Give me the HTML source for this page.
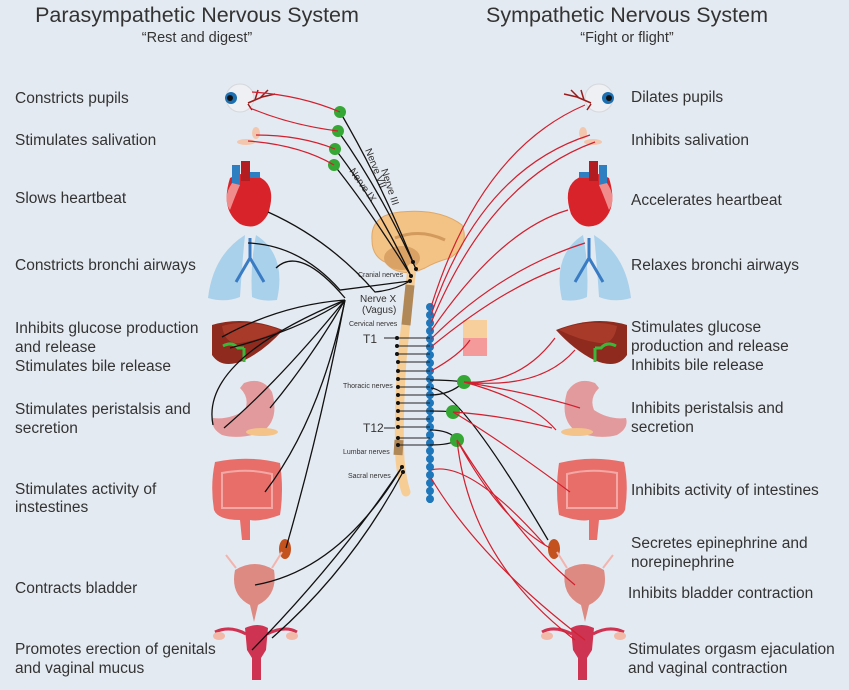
<!DOCTYPE html>
<html><head><meta charset="utf-8"><style>
html,body{margin:0;padding:0;background:#e4eaf1;}
svg{display:block;font-family:"Liberation Sans",sans-serif;}
</style></head><body>
<svg width="849" height="690" viewBox="0 0 849 690" xmlns="http://www.w3.org/2000/svg">
<rect width="849" height="690" fill="#e4eaf1"/>
<g fill="#333" text-anchor="middle">
<text x="197" y="22" font-size="21.5">Parasympathetic Nervous System</text>
<text x="197" y="42" font-size="14.5">“Rest and digest”</text>
<text x="627" y="22" font-size="21.5">Sympathetic Nervous System</text>
<text x="627" y="42" font-size="14.5">“Fight or flight”</text>
</g>
<g fill="#333" font-size="15.5">
<text x="15" y="103">Constricts pupils</text>
<text x="15" y="145">Stimulates salivation</text>
<text x="15" y="203">Slows heartbeat</text>
<text x="15" y="270">Constricts bronchi airways</text>
<text x="15" y="333">Inhibits glucose production</text>
<text x="15" y="352">and release</text>
<text x="15" y="371">Stimulates bile release</text>
<text x="15" y="414">Stimulates peristalsis and</text>
<text x="15" y="433">secretion</text>
<text x="15" y="494">Stimulates activity of</text>
<text x="15" y="512">instestines</text>
<text x="15" y="593">Contracts bladder</text>
<text x="15" y="654">Promotes erection of genitals</text>
<text x="15" y="673">and vaginal mucus</text>
<text x="631" y="102">Dilates pupils</text>
<text x="631" y="145">Inhibits salivation</text>
<text x="631" y="205">Accelerates heartbeat</text>
<text x="631" y="270">Relaxes bronchi airways</text>
<text x="631" y="332">Stimulates glucose</text>
<text x="631" y="351">production and release</text>
<text x="631" y="370">Inhibits bile release</text>
<text x="631" y="413">Inhibits peristalsis and</text>
<text x="631" y="432">secretion</text>
<text x="631" y="495">Inhibits activity of intestines</text>
<text x="631" y="548">Secretes epinephrine and</text>
<text x="631" y="567">norepinephrine</text>
<text x="628" y="598">Inhibits bladder contraction</text>
<text x="628" y="654">Stimulates orgasm ejaculation</text>
<text x="628" y="673">and vaginal contraction</text>
</g>

<g id="L">
<circle cx="240" cy="98" r="14" fill="#eef0f3" stroke="#d5d8dc"/>
<circle cx="231" cy="98" r="6" fill="#1c6fb0"/><circle cx="230" cy="98" r="3" fill="#111"/>
<path d="M248 103 L262 97 L275 94 M255 100 L258 90 M260 98 L268 90 M248 104 L252 110" stroke="#9b1b1b" stroke-width="1.5" fill="none"/>
<ellipse cx="256" cy="133" rx="4" ry="6" fill="#f3c7ad"/><ellipse cx="246" cy="142" rx="9" ry="3" fill="#f3c7ad"/>
<path d="M230 178 Q220 210 240 224 Q258 232 268 214 Q276 190 264 180 Q248 168 230 178Z" fill="#d9232a"/>
<rect x="232" y="165" width="8" height="20" fill="#2d7fc1"/><rect x="241" y="161" width="9" height="20" fill="#b31d22"/><rect x="250" y="172" width="10" height="6" fill="#2d7fc1"/>
<path d="M232 183 Q222 198 230 210 Q236 194 240 185Z" fill="#f08c8c"/>
<path d="M245 235 Q213 255 208 298 Q225 303 240 297 Q242 265 245 235Z" fill="#a9d1ec"/>
<path d="M256 235 Q287 255 277 300 Q262 302 252 297 Q250 265 256 235Z" fill="#a9d1ec"/>
<path d="M250 238 V258 M250 258 L236 282 M250 258 L264 282" stroke="#3a7cc4" stroke-width="3" fill="none"/>
<path d="M212 325 Q245 315 283 330 Q265 350 245 360 Q222 370 212 355Z" fill="#8e2a1e"/>
<path d="M222 326 Q250 318 280 330 Q260 340 240 343 Q225 345 222 326Z" fill="#a83a2a"/>
<path d="M223 346 Q232 341 238 348 L244 348 M244 348 V362" stroke="#3ab83a" stroke-width="3" fill="none"/>
<path d="M244 383 Q262 376 272 392 Q280 420 262 432 Q240 440 222 435 Q210 428 213 418 Q230 420 245 410 Q250 398 240 388Z" fill="#e39a9c"/>
<ellipse cx="262" cy="432" rx="16" ry="4" fill="#f3c38a"/>
<path d="M215 462 Q248 455 280 463 Q284 490 280 515 Q260 522 250 520 L250 540 L242 540 L240 520 Q218 520 214 510 Q210 485 215 462Z" fill="#e86e6a"/>
<path d="M222 473 Q248 468 272 474 L272 508 L222 508Z" fill="none" stroke="#f4a8a5" stroke-width="2"/>
<ellipse cx="285" cy="549" rx="6" ry="10" fill="#c4521e"/>
<path d="M235 570 Q230 595 250 605 L254 622 L258 605 Q278 595 274 570 Q255 558 235 570Z" fill="#dd8a83"/>
<path d="M236 568 L226 555 M272 568 L282 552" stroke="#f3b4ae" stroke-width="2"/>
<path d="M245 628 Q258 622 268 628 L266 650 L261 658 V680 H252 V658 L247 650Z" fill="#cf3352"/>
<path d="M246 634 Q230 625 215 632 M267 634 Q285 625 297 632" stroke="#cf3352" stroke-width="3" fill="none"/>
<ellipse cx="219" cy="636" rx="6" ry="4" fill="#f3b9a8"/><ellipse cx="292" cy="636" rx="6" ry="4" fill="#f3b9a8"/>
</g>
<g transform="translate(837,0) scale(-1,1)">
<use href="#L" x="-2" y="0"/>
</g>

<rect x="463" y="320" width="24" height="18" fill="#f6cf9c"/><rect x="463" y="338" width="24" height="18" fill="#f59a9a"/>

<path d="M372 240 Q370 215 400 212 Q440 208 462 225 Q470 245 450 258 Q435 262 425 268 L415 272 Q395 275 385 262 Q372 256 372 240Z" fill="#f3c285" stroke="#e0a868"/>
<ellipse cx="402" cy="258" rx="18" ry="12" fill="#dba265"/>
<path d="M395 238 Q420 228 445 240" stroke="#d29a5c" stroke-width="3" fill="none"/>

<path d="M412 268 Q407 310 402 360 Q398 420 400 460 Q402 480 406 492" stroke="#f7cd96" stroke-width="9" fill="none" stroke-linecap="round"/>
<path d="M410 285 L406 325 M399 440 L398 455" stroke="#b08756" stroke-width="9" fill="none"/>
<line x1="430" y1="305" x2="430" y2="503" stroke="#1c6fb0" stroke-width="3"/>
<g fill="#1f77bb">
<circle cx="430" cy="307" r="4"/><circle cx="430" cy="315" r="4"/><circle cx="430" cy="323" r="4"/><circle cx="430" cy="331" r="4"/><circle cx="430" cy="339" r="4"/><circle cx="430" cy="347" r="4"/><circle cx="430" cy="355" r="4"/><circle cx="430" cy="363" r="4"/><circle cx="430" cy="371" r="4"/><circle cx="430" cy="379" r="4"/><circle cx="430" cy="387" r="4"/><circle cx="430" cy="395" r="4"/><circle cx="430" cy="403" r="4"/><circle cx="430" cy="411" r="4"/><circle cx="430" cy="419" r="4"/><circle cx="430" cy="427" r="4"/><circle cx="430" cy="435" r="4"/><circle cx="430" cy="443" r="4"/><circle cx="430" cy="451" r="4"/><circle cx="430" cy="459" r="4"/><circle cx="430" cy="467" r="4"/><circle cx="430" cy="475" r="4"/><circle cx="430" cy="483" r="4"/><circle cx="430" cy="491" r="4"/><circle cx="430" cy="499" r="4"/>
</g>
<g stroke="#222" stroke-width="1">
<line x1="397" y1="338" x2="430" y2="338"/><line x1="397" y1="346" x2="430" y2="346"/><line x1="397" y1="354" x2="430" y2="354"/><line x1="398" y1="362" x2="430" y2="362"/><line x1="398" y1="371" x2="430" y2="371"/><line x1="398" y1="379" x2="430" y2="379"/><line x1="398" y1="387" x2="430" y2="387"/><line x1="398" y1="395" x2="430" y2="395"/><line x1="398" y1="403" x2="430" y2="403"/><line x1="398" y1="411" x2="430" y2="411"/><line x1="398" y1="419" x2="430" y2="419"/><line x1="398" y1="427" x2="430" y2="427"/><line x1="398" y1="438" x2="430" y2="438"/><line x1="398" y1="445" x2="430" y2="445"/>
<line x1="384" y1="338" x2="395" y2="338"/><line x1="384" y1="428" x2="395" y2="428"/>
</g>
<g fill="#111">
<circle cx="397" cy="338" r="2"/><circle cx="397" cy="346" r="2"/><circle cx="397" cy="354" r="2"/><circle cx="398" cy="362" r="2"/><circle cx="398" cy="371" r="2"/><circle cx="398" cy="379" r="2"/><circle cx="398" cy="387" r="2"/><circle cx="398" cy="395" r="2"/><circle cx="398" cy="403" r="2"/><circle cx="398" cy="411" r="2"/><circle cx="398" cy="419" r="2"/><circle cx="398" cy="427" r="2"/><circle cx="398" cy="438" r="2"/><circle cx="398" cy="445" r="2"/>
<circle cx="413" cy="262" r="2"/><circle cx="416" cy="269" r="2"/><circle cx="411" cy="276" r="2"/><circle cx="410" cy="281" r="2"/><circle cx="402" cy="467" r="2"/><circle cx="403" cy="472" r="2"/>
</g>
<g fill="#333">
<text x="363" y="343" font-size="12">T1</text>
<text x="363" y="432" font-size="12">T12</text>
<text x="360" y="302" font-size="10">Nerve X</text>
<text x="362" y="313" font-size="10">(Vagus)</text>
<text x="349" y="326" font-size="7">Cervical nerves</text>
<text x="343" y="388" font-size="7">Thoracic nerves</text>
<text x="343" y="454" font-size="7">Lumbar nerves</text>
<text x="348" y="478" font-size="7">Sacral nerves</text>
<text x="358" y="277" font-size="7">Cranial nerves</text>
<text font-size="10" transform="translate(349,171) rotate(55)">Nerve IX</text>
<text font-size="10" transform="translate(365,150) rotate(68)">Nerve VII</text>
<text font-size="10" transform="translate(381,170) rotate(72)">Nerve III</text>
</g>

<g stroke="#111" stroke-width="1.3" fill="none">
<path d="M340 112 Q380 180 413 262"/><path d="M338 131 Q380 190 416 269"/><path d="M335 149 Q375 200 411 276"/><path d="M334 165 Q370 210 411 276"/>
<path d="M268 212 Q330 240 375 292 Q395 290 410 281"/>
<path d="M248 243 Q300 245 340 290 Q380 285 410 281"/>
<path d="M276 268 Q300 245 345 298"/>
<path d="M222 337 Q280 305 345 300"/><path d="M230 348 Q300 330 345 300"/>
<path d="M213 425 Q200 360 345 300"/><path d="M224 428 Q280 380 345 300"/><path d="M270 408 Q310 360 345 300"/>
<path d="M265 492 Q320 420 345 300"/><path d="M286 548 Q320 430 345 300"/>
<path d="M255 585 Q340 570 402 467"/><path d="M252 650 Q340 560 402 467"/><path d="M272 638 Q350 570 403 472"/>
<path d="M431 388 Q460 390 548 540"/>
<path d="M430 380 Q450 380 464 382 M430 395 Q450 395 464 382 M430 411 Q445 411 453 412 M430 430 Q450 430 457 440 M430 445 Q450 445 457 440"/>
</g>
<g fill="#34a734"><circle cx="340" cy="112" r="6"/><circle cx="338" cy="131" r="6"/><circle cx="335" cy="149" r="6"/><circle cx="334" cy="165" r="6"/>
<circle cx="464" cy="382" r="7"/><circle cx="453" cy="412" r="7"/><circle cx="457" cy="440" r="7"/></g>
<g stroke="#d1202f" stroke-width="1.2" fill="none">
<path d="M252 92 Q300 95 340 112"/><path d="M250 108 Q290 125 338 131"/><path d="M256 135 Q300 135 335 149"/><path d="M248 141 Q300 145 334 165"/>
<path d="M431 307 Q480 150 585 105"/><path d="M431 315 Q480 170 590 135"/><path d="M431 323 Q490 180 595 142"/>
<path d="M431 331 Q500 230 568 210"/><path d="M431 339 Q500 270 585 243"/><path d="M431 347 Q500 290 560 268"/>
<path d="M431 371 Q460 355 470 340"/>
<path d="M464 382 Q520 385 555 338 M464 382 Q540 390 575 350 M464 382 Q540 395 580 408 M464 382 Q530 400 556 430"/>
<path d="M453 412 Q500 415 552 428 M453 412 Q500 440 570 492"/>
<path d="M457 440 Q500 520 550 548 M457 440 Q520 540 575 585 M457 440 Q470 560 575 640"/>
<path d="M431 470 Q470 460 545 545 M431 478 Q480 560 585 640"/>
</g>
</svg>
</body></html>
